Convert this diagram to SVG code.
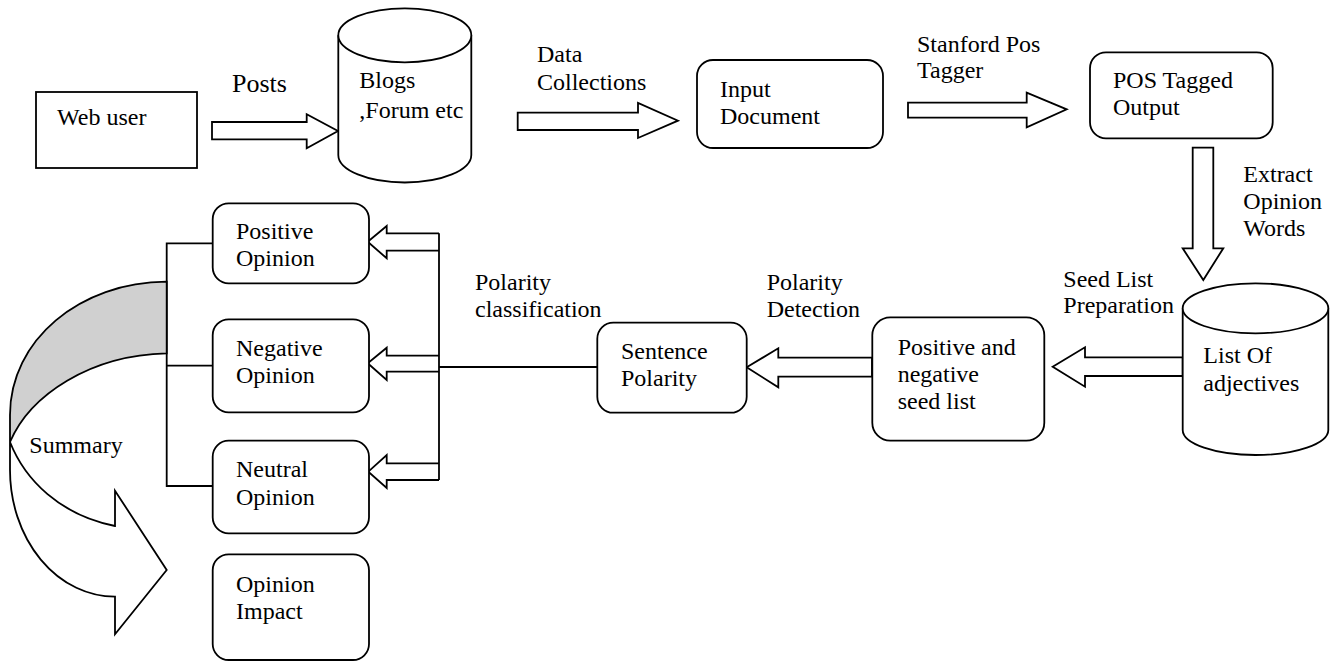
<svg xmlns="http://www.w3.org/2000/svg" width="1330" height="662" viewBox="0 0 1330 662">
<style>
text{font-family:"Liberation Serif","Times New Roman",serif;font-size:24px;fill:#000}
.s{fill:#fff;stroke:#000;stroke-width:1.8}
.l{fill:none;stroke:#000;stroke-width:1.8}
</style>
<rect width="1330" height="662" fill="#fff"/>
<g id="connectors">
<polygon class="s" points="212,122 306.7,122 306.7,114.3 338,131 306.7,148.3 306.7,139.3 212,139.3"/>
<polygon class="s" points="517.7,112.7 638,112.7 638,103 678,120.7 638,138 638,130 517.7,130"/>
<polygon class="s" points="908,102.7 1026.7,102.7 1026.7,92.7 1066.7,109.3 1026.7,127.3 1026.7,117.7 908,117.7"/>
<polygon class="s" points="1192.7,147.7 1213.3,147.7 1213.3,248.3 1223.3,248.3 1203.3,280 1182.7,248.3 1192.7,248.3"/>
<polygon class="s" points="1182.7,357.3 1085,357.3 1085,347.3 1052.7,366.7 1085,386.7 1085,376 1182.7,376"/>
<polygon class="s" points="872,357.7 778.3,357.7 778.3,348.3 746.7,367.3 778.3,387.3 778.3,376.7 872,376.7"/>
<polyline class="s" points="439,233.3 386.7,233.3 386.7,226 367.7,241.7 386.7,258.3 386.7,250.7 439,250.7"/>
<polyline class="s" points="439,355.7 386.7,355.7 386.7,347.7 367.7,363.3 386.7,380 386.7,371.7 439,371.7"/>
<polyline class="s" points="439,463.3 386.7,463.3 386.7,455 368.3,471.7 386.7,488 386.7,480 439,480"/>
<line class="l" x1="439" y1="233.3" x2="439" y2="480"/>
<line class="l" x1="439" y1="367" x2="597.3" y2="367"/>
<polyline class="l" points="212.7,243.3 166.7,243.3 166.7,486 212.7,486"/>
<line class="l" x1="166.7" y1="365.7" x2="212.7" y2="365.7"/>
<g id="summary-arrow">
<path d="M166.7,281.7 C80,282 10,340 10,415 L10,442 C30,395 90,355 166.7,353.3 Z" fill="#d0d0d0" stroke="#000" stroke-width="1.8"/>
<path class="s" d="M10,442 L10,470 A105 126.7 0 0 0 115,596.7 L115,634.3 L166.7,570 L115,490.7 L115,526 C60,515 25,480 10,442 Z"/>
</g>
</g>
<g id="web-user"><rect class="s" x="36" y="92" width="161" height="76"/><text x="57" y="125">Web user</text></g>
<text x="232" y="91.7" style="font-size:26px">Posts</text>
<g id="blogs">
<path class="s" d="M338.3,35.3 L338.3,155 A66.5 27.5 0 0 0 471.3,155 L471.3,35.3"/>
<ellipse class="s" cx="404.8" cy="35.3" rx="66.5" ry="27"/>
<text x="359.3" y="88.3">Blogs</text><text x="359.3" y="117.7">,Forum etc</text>
</g>
<text x="537" y="61.7">Data</text><text x="537" y="90">Collections</text>
<g id="input-document"><rect class="s" x="697" y="60" width="186" height="88" rx="16"/><text x="720" y="97.3">Input</text><text x="720" y="124">Document</text></g>
<text x="917" y="51.7">Stanford Pos</text><text x="917" y="78.3">Tagger</text>
<g id="pos-tagged"><rect class="s" x="1090" y="52.3" width="182.7" height="86" rx="16"/><text x="1113" y="88.3">POS Tagged</text><text x="1113" y="115">Output</text></g>
<text x="1243.3" y="182">Extract</text><text x="1243.3" y="209">Opinion</text><text x="1243.3" y="236">Words</text>
<text x="1063.3" y="286.7">Seed List</text><text x="1063.3" y="313.3">Preparation</text>
<g id="list-adjectives">
<path class="s" d="M1182.7,308.3 L1182.7,430 A72.8 25 0 0 0 1328.3,430 L1328.3,308.3"/>
<ellipse class="s" cx="1255.5" cy="308.3" rx="72.8" ry="25"/>
<text x="1203.3" y="363">List Of</text><text x="1203.3" y="390.5">adjectives</text>
</g>
<g id="seed-list"><rect class="s" x="872.3" y="317.3" width="172" height="123.4" rx="18"/><text x="897.7" y="355">Positive and</text><text x="897.7" y="382">negative</text><text x="897.7" y="409">seed list</text></g>
<text x="766.7" y="290">Polarity</text><text x="766.7" y="317.3">Detection</text>
<g id="sentence-polarity"><rect class="s" x="597.3" y="322.7" width="149.4" height="90" rx="16"/><text x="621" y="359">Sentence</text><text x="621" y="386">Polarity</text></g>
<text x="475" y="290">Polarity</text><text x="475" y="317.3">classification</text>
<g id="positive-opinion"><rect class="s" x="212.7" y="203.3" width="156.3" height="80" rx="16"/><text x="236" y="239.3">Positive</text><text x="236" y="266">Opinion</text></g>
<g id="negative-opinion"><rect class="s" x="212.7" y="319.3" width="156.3" height="93" rx="16"/><text x="236" y="355.7">Negative</text><text x="236" y="383.3">Opinion</text></g>
<g id="neutral-opinion"><rect class="s" x="212.7" y="440.7" width="156.3" height="92.6" rx="16"/><text x="236" y="477.3">Neutral</text><text x="236" y="505">Opinion</text></g>
<g id="opinion-impact"><rect class="s" x="212.7" y="554.3" width="156.3" height="105.7" rx="16"/><text x="236" y="591.7">Opinion</text><text x="236" y="619">Impact</text></g>
<text x="29.3" y="453.3">Summary</text>
</svg>
